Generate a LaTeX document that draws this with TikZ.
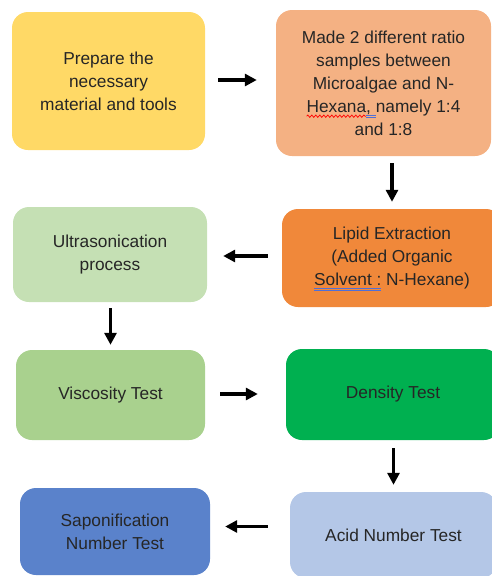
\documentclass[tikz,border=0pt]{standalone}
\usepackage{fontspec}
\setmainfont{Liberation Sans}
\usepackage{tikz}
\usetikzlibrary{arrows.meta, positioning, calc, decorations.pathmorphing}
\usepackage{xcolor}
\definecolor{prepGold}{HTML}{FFD966}
\definecolor{sampPeach}{HTML}{F4B183}
\definecolor{lipidOrange}{HTML}{F0883A}
\definecolor{ultraMint}{HTML}{C5E0B4}
\definecolor{viscGreen}{HTML}{A9D18E}
\definecolor{densGreen}{HTML}{00B050}
\definecolor{acidBlue}{HTML}{B4C7E7}
\definecolor{saponBlue}{HTML}{5A82CB}
\definecolor{gramBlue}{HTML}{4F6FD8}
\definecolor{txtGray}{HTML}{262626}
% spell check marks
\newsavebox{\markbox}
\newcommand{\spellwave}[1]{\sbox{\markbox}{#1}\rlap{\tikz[overlay, baseline=0pt, sharp corners, x=1pt, y=1pt]\draw[red, line width=0.7pt, decorate, decoration={snake, amplitude=1.2pt, segment length=4pt}] (0pt,-4pt) -- (\the\wd\markbox,-4pt);}\usebox{\markbox}}
\newcommand{\gramline}[1]{\sbox{\markbox}{#1}\rlap{\tikz[overlay, baseline=0pt, sharp corners, x=1pt, y=1pt]{\draw[gramBlue, line width=0.8pt] (0pt,-3pt) -- (\the\wd\markbox,-3pt) (0pt,-5pt) -- (\the\wd\markbox,-5pt);}}\usebox{\markbox}}
\tikzset{
    font=\fontsize{17.3}{23}\selectfont,
    % Shapes
    stage/.style={rectangle, rounded corners=16pt, inner sep=0pt,
                  align=center, text=txtGray},
    % Flow
    flow/.style={-{Triangle[length=12pt, width=12pt]}, line width=3.4pt, black}
}
\begin{document}
\begin{tikzpicture}[x=1pt, y=-1pt]
\useasboundingbox (0,0) rectangle (492,576);

\node[stage, fill=prepGold, minimum width=193pt, minimum height=138pt] (prep) at (108.5,81) {Prepare the\\necessary\\material and tools};
\node[stage, fill=sampPeach, minimum width=215pt, minimum height=146pt] (samp) at (383.5,83) {Made 2 different ratio\\samples between\\Microalgae and N-\\\spellwave{Hexana}\gramline{,\ }namely 1:4\\and 1:8};
\node[stage, fill=lipidOrange, minimum width=220pt, minimum height=98pt] (lipid) at (392,258) {Lipid Extraction\\(Added Organic\\\gramline{Solvent :} N-Hexane)};
\node[stage, fill=ultraMint, minimum width=194pt, minimum height=95pt] (ultra) at (110,254.5) {Ultrasonication\\process};
\node[stage, fill=viscGreen, minimum width=189pt, minimum height=90pt] (visc) at (110.5,395) {Viscosity Test};
\node[stage, fill=densGreen, minimum width=214pt, minimum height=91pt] (dens) at (393,394.5) {Density Test};
\node[stage, fill=acidBlue, minimum width=207pt, minimum height=86pt] (acid) at (393.5,535) {Acid Number Test};
\node[stage, fill=saponBlue, minimum width=190pt, minimum height=87pt] (sapon) at (115,531.5) {Saponification\\Number Test};

\draw[flow, shorten <=13pt, shorten >=19pt] ([yshift=1pt]prep.east) -- ([yshift=1pt]prep.east -| samp.west);
\draw[flow, shorten <=7pt, shorten >=7pt] (samp.south -| lipid.north) -- (lipid.north);
\draw[flow, shorten <=14pt, shorten >=16pt] ([yshift=2pt]lipid.west) -- ([yshift=2pt]lipid.west -| ultra.east);
\draw[flow, shorten <=6pt, shorten >=5pt] (ultra.south -| visc.north) -- (visc.north);
\draw[flow, shorten <=15pt, shorten >=28pt] ([yshift=1pt]visc.east) -- ([yshift=1pt]visc.east -| dens.west);
\draw[flow, shorten <=8pt, shorten >=7pt] (dens.south -| acid.north) -- (acid.north);
\draw[flow, shorten <=22pt, shorten >=15pt] ([yshift=5pt]acid.west |- sapon.east) -- ([yshift=5pt]sapon.east);

\end{tikzpicture}
\end{document}
